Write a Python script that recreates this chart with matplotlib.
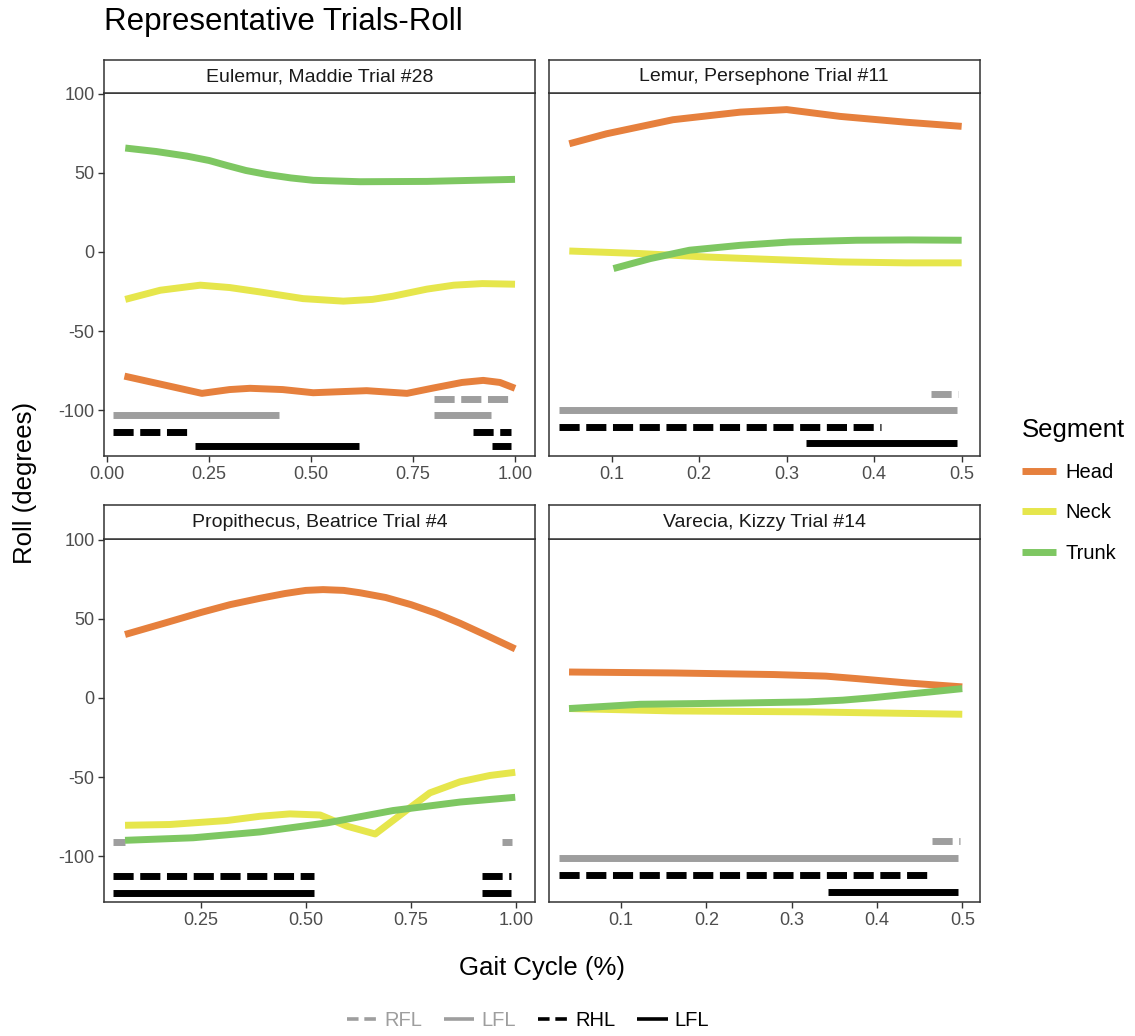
import matplotlib
matplotlib.use("Agg")
import matplotlib.pyplot as plt
from matplotlib.lines import Line2D

plt.rcParams['font.family'] = ['Liberation Sans', 'DejaVu Sans']

# ---------------- data ----------------
panel_titles = ["Eulemur, Maddie Trial #28", "Lemur, Persephone Trial #11",
                "Propithecus, Beatrice Trial #4", "Varecia, Kizzy Trial #14"]
segments = ["Head", "Neck", "Trunk"]
gait_labels = ["RFL", "LFL", "RHL", "LFL"]

# Eulemur, Maddie
eul_head_x = [0.042, 0.232, 0.30, 0.35, 0.43, 0.505, 0.636, 0.735, 0.80, 0.87, 0.922, 0.963, 1.0]
eul_head_y = [-78.5, -89.4, -87.0, -86.2, -87.0, -89.0, -87.7, -89.4, -86.0, -82.5, -81.2, -82.5, -86.2]
eul_neck_x = [0.044, 0.13, 0.228, 0.30, 0.375, 0.48, 0.579, 0.65, 0.70, 0.784, 0.85, 0.92, 1.0]
eul_neck_y = [-30.0, -24.2, -21.0, -22.5, -25.3, -29.5, -31.1, -30.0, -28.0, -23.5, -21.0, -20.0, -20.4]
eul_trunk_x = [0.044, 0.12, 0.195, 0.25, 0.293, 0.34, 0.391, 0.45, 0.505, 0.62, 0.784, 0.90, 1.0]
eul_trunk_y = [65.7, 63.5, 60.6, 57.8, 54.7, 51.5, 49.0, 46.8, 45.3, 44.4, 44.6, 45.3, 45.9]

# Lemur, Persephone
lem_head_x = [0.0515, 0.094, 0.17, 0.247, 0.30, 0.361, 0.437, 0.5]
lem_head_y = [68.4, 74.7, 83.6, 88.4, 90.0, 85.7, 82.0, 79.4]
lem_neck_x = [0.0515, 0.132, 0.209, 0.285, 0.361, 0.437, 0.5]
lem_neck_y = [0.6, -1.0, -3.2, -4.8, -6.3, -6.9, -6.9]
lem_trunk_x = [0.102, 0.144, 0.189, 0.247, 0.304, 0.38, 0.44, 0.5]
lem_trunk_y = [-10.5, -4.2, 1.1, 4.2, 6.3, 7.4, 7.6, 7.4]

# Propithecus, Beatrice
pro_head_x = [0.07, 0.16, 0.25, 0.32, 0.391, 0.45, 0.50, 0.541, 0.59, 0.629, 0.69, 0.75, 0.81, 0.867, 0.93, 0.998]
pro_head_y = [40.1, 47.0, 54.0, 59.0, 63.0, 66.0, 68.0, 68.5, 68.0, 66.5, 63.5, 59.0, 53.5, 47.2, 39.5, 31.0]
pro_neck_x = [0.07, 0.177, 0.312, 0.391, 0.462, 0.534, 0.597, 0.665, 0.731, 0.795, 0.867, 0.938, 0.998]
pro_neck_y = [-80.5, -80.0, -77.5, -74.8, -73.3, -74.0, -81.0, -86.0, -72.7, -60.0, -53.0, -49.0, -47.0]
pro_trunk_x = [0.07, 0.232, 0.391, 0.55, 0.707, 0.867, 0.998]
pro_trunk_y = [-90.0, -88.4, -84.7, -79.0, -71.2, -65.8, -62.8]

# Varecia, Kizzy
var_head_x = [0.039, 0.161, 0.279, 0.34, 0.377, 0.435, 0.5]
var_head_y = [16.4, 15.8, 14.8, 13.8, 12.2, 9.5, 7.0]
var_neck_x = [0.039, 0.161, 0.318, 0.5]
var_neck_y = [-6.7, -8.2, -8.8, -10.3]
var_trunk_x = [0.039, 0.122, 0.24, 0.318, 0.36, 0.396, 0.455, 0.5]
var_trunk_y = [-6.7, -4.0, -3.2, -2.5, -1.4, 0.2, 3.4, 5.9]

# gait (stance) bars: (start, end) intervals and their levels
eul_rfl = [(0.802, 0.985)]
eul_lfl_fore = [(0.014, 0.421), (0.802, 0.942)]
eul_rhl = [(0.013, 0.198), (0.896, 0.991)]
eul_lfl_hind = [(0.215, 0.617), (0.943, 0.990)]
eul_levels = [-93.2, -103.1, -113.6, -122.7]

lem_rfl = [(0.4646, 0.4958)]
lem_lfl_fore = [(0.040, 0.495)]
lem_rhl = [(0.040, 0.408)]
lem_lfl_hind = [(0.322, 0.495)]
lem_levels = [-89.8, -99.9, -110.5, -121.0]

pro_rfl = [(0.041, 0.070), (0.966, 0.990)]
pro_lfl_fore = []
pro_rhl = [(0.041, 0.520), (0.918, 0.987)]
pro_lfl_hind = [(0.041, 0.520), (0.918, 0.987)]
pro_levels = [-90.9, -101.0, -112.4, -123.1]

var_rfl = [(0.464, 0.497)]
var_lfl_fore = [(0.027, 0.495)]
var_rhl = [(0.027, 0.464)]
var_lfl_hind = [(0.343, 0.495)]
var_levels = [-90.3, -101.4, -111.9, -122.5]

# x ticks per panel
eul_xticks = [0.0, 0.25, 0.5, 0.75, 1.0]
lem_xticks = [0.1, 0.2, 0.3, 0.4, 0.5]
pro_xticks = [0.25, 0.5, 0.75, 1.0]
var_xticks = [0.1, 0.2, 0.3, 0.4, 0.5]
y_ticks = [-100, -50, 0, 50, 100]

# ---------------- style ----------------
seg_colors = {"Head": "#E6803D", "Neck": "#E6E64C", "Trunk": "#7EC762"}
gait_styles = [("#9E9E9E", "dash"), ("#9E9E9E", "solid"), ("#000000", "dash"), ("#000000", "solid")]
DASH = (0, (2.9, 0.95))
LW = 5.0
W, H = 1135, 1036

fig = plt.figure(figsize=(W / 100, H / 100), dpi=100)

def fx(px):
    return px / W

def fy(py):
    return 1 - py / H

col_x = [(104.3, 535.0), (549.0, 979.5)]
row_y = [(60.0, 93.3, 456.0), (505.5, 539.3, 902.0)]

panels = [
    (eul_head_x, eul_head_y, eul_neck_x, eul_neck_y, eul_trunk_x, eul_trunk_y,
     [eul_rfl, eul_lfl_fore, eul_rhl, eul_lfl_hind], eul_levels, eul_xticks,
     (-0.0074, 1.049), "{:.2f}"),
    (lem_head_x, lem_head_y, lem_neck_x, lem_neck_y, lem_trunk_x, lem_trunk_y,
     [lem_rfl, lem_lfl_fore, lem_rhl, lem_lfl_hind], lem_levels, lem_xticks,
     (0.0283, 0.5204), "{:.1f}"),
    (pro_head_x, pro_head_y, pro_neck_x, pro_neck_y, pro_trunk_x, pro_trunk_y,
     [pro_rfl, pro_lfl_fore, pro_rhl, pro_lfl_hind], pro_levels, pro_xticks,
     (0.0207, 1.045), "{:.2f}"),
    (var_head_x, var_head_y, var_neck_x, var_neck_y, var_trunk_x, var_trunk_y,
     [var_rfl, var_lfl_fore, var_rhl, var_lfl_hind], var_levels, var_xticks,
     (0.0155, 0.5202), "{:.1f}"),
]

for i, (hx, hy, nx, ny, tx, ty, bars, levels, xticks, xlim, fmt) in enumerate(panels):
    r, c = divmod(i, 2)
    x0, x1 = col_x[c]
    s0, p0, p1 = row_y[r]
    ax = fig.add_axes([fx(x0), fy(p1), fx(x1 - x0), (p1 - p0) / H])
    # strip
    sax = fig.add_axes([fx(x0), fy(p0), fx(x1 - x0), (p0 - s0) / H])
    sax.set_xticks([]); sax.set_yticks([])
    for sp in sax.spines.values():
        sp.set_color("#333333"); sp.set_linewidth(1.1)
    sax.text(0.5, 0.5, panel_titles[i], ha="center", va="center",
             fontsize=14, color="#1A1A1A", transform=sax.transAxes)

    for (xs, ys, seg) in [(hx, hy, "Head"), (nx, ny, "Neck"), (tx, ty, "Trunk")]:
        ax.plot(xs, ys, color=seg_colors[seg], lw=LW, solid_capstyle="butt",
                solid_joinstyle="round", zorder=3)

    for (intervals, level, (col, st)) in zip(bars, levels, gait_styles):
        for (a, b) in intervals:
            ls = DASH if st == "dash" else "-"
            ax.plot([a, b], [level, level], color=col, lw=LW, linestyle=ls,
                    solid_capstyle="butt", dash_capstyle="butt", zorder=2)

    ax.set_xlim(*xlim)
    ax.set_ylim(-129.0, 100.3)
    ax.set_xticks(xticks)
    ax.set_xticklabels([fmt.format(v) for v in xticks])
    ax.tick_params(direction="out", length=4, width=1.0, color="#333333",
                   labelcolor="#4D4D4D", labelsize=13, pad=3)
    if c == 0:
        ax.set_yticks(y_ticks)
        ax.set_yticklabels([str(v) for v in y_ticks])
    else:
        ax.set_yticks([])
    for sp in ax.spines.values():
        sp.set_color("#333333"); sp.set_linewidth(1.1)

# titles
fig.text(fx(104), fy(22), "Representative Trials-Roll", fontsize=22.5, color="#000000",
         ha="left", va="center")
fig.text(fx(25), fy(483), "Roll (degrees)", fontsize=18.5, rotation=90,
         ha="center", va="center", color="#000000")
fig.text(fx(542), fy(968), "Gait Cycle (%)", fontsize=18.5, ha="center", va="center",
         color="#000000")

# Segment legend
seg_handles = [Line2D([0], [0], color=seg_colors[s], lw=LW, solid_capstyle="butt") for s in segments]
leg = fig.legend(seg_handles, segments, title="Segment", loc="upper left",
                 bbox_to_anchor=(fx(1004), fy(400)), frameon=False, fontsize=14.5,
                 title_fontsize=18.5, handlelength=1.7, labelspacing=1.05,
                 handletextpad=0.45)
leg._legend_box.align = "left"

# Gait legend
gait_handles = []
for col, st in gait_styles:
    gait_handles.append(Line2D([0], [0], color=col, lw=2.6,
                               linestyle=(0, (3.2, 1.6)) if st == "dash" else "-",
                               dash_capstyle="butt", solid_capstyle="butt"))
gleg = fig.legend(gait_handles, gait_labels, loc="center", ncol=4,
                  bbox_to_anchor=(fx(528), fy(1021)), frameon=False, fontsize=14.5,
                  handlelength=1.5, handletextpad=0.35, columnspacing=1.1)
for t, (col, st) in zip(gleg.get_texts(), gait_styles):
    t.set_color("#9E9E9E" if col != "#000000" else "#000000")

fig.savefig("out.png", dpi=100)
